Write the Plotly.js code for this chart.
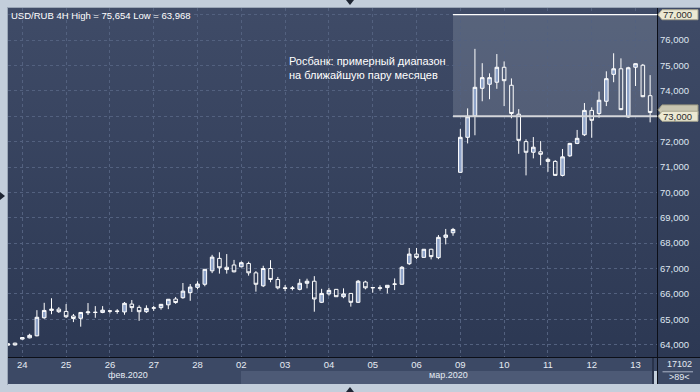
<!DOCTYPE html>
<html>
<head>
<meta charset="utf-8">
<script src="https://cdn.plot.ly/plotly-3.0.1.min.js"></script>
<style>
  html,body{margin:0;padding:0;}
  body{width:700px;height:392px;overflow:hidden;position:relative;background:#c3cedb;font-family:"Liberation Sans",Arial,sans-serif;}
  .abs{position:absolute;}
</style>
</head>
<body>
<div class="abs" style="left:7px;top:7px;width:693px;height:1px;background:#9aa6b6"></div>
<div class="abs" style="left:7px;top:7px;width:1px;height:378px;background:#9aa6b6"></div>
<div class="abs" style="left:8px;top:8px;width:692px;height:349px;background:linear-gradient(#3f4b67,#2c3853)"></div>
<div class="abs" style="left:8px;top:357px;width:692px;height:14px;background:#3c4965"></div>
<div class="abs" style="left:8px;top:371px;width:233px;height:13px;background:#3c4965"></div>
<div class="abs" style="left:241px;top:371px;width:411px;height:13px;background:#4d5a76"></div>
<div class="abs" style="left:652px;top:357px;width:2px;height:27px;background:#28324a"></div>
<div class="abs" style="left:657px;top:357px;width:43px;height:27px;background:#3c4965"></div>
<div class="abs" style="left:8px;top:357px;width:692px;height:1px;background:#0c0f18"></div>
<div class="abs" style="left:657px;top:8px;width:1px;height:376px;background:#0c0f18"></div>
<div class="abs" style="left:346px;top:0px;width:0;height:0;border-left:4px solid transparent;border-right:4px solid transparent;border-top:5px solid #1e2533"></div>
<div class="abs" style="left:346px;top:387px;width:0;height:0;border-left:4px solid transparent;border-right:4px solid transparent;border-bottom:5px solid #1e2533"></div>
<div class="abs" style="left:0px;top:192px;width:0;height:0;border-top:4px solid transparent;border-bottom:4px solid transparent;border-left:5px solid #1e2533"></div>
<div id="chart" class="abs" style="left:0;top:0;width:700px;height:392px"></div>
<script>
// ---- data: USD/RUB 4H candles (index 0..88) ----
const openP  = [64.04,64.06,64.22,64.27,64.35,65.06,65.35,65.40,65.31,65.13,
                65.04,65.26,65.28,65.27,65.32,65.31,65.29,65.60,65.47,65.30,
                65.44,65.46,65.57,65.80,65.85,66.05,66.26,66.38,66.91,67.40,
                67.05,67.14,67.07,67.20,66.83,66.32,67.00,66.57,66.24,66.22,
                66.18,66.42,66.50,65.67,66.00,66.18,65.89,66.02,65.67,66.47,
                66.24,66.22,66.25,66.38,66.38,67.19,67.57,67.44,67.76,67.43,
                68.23,68.41,70.79,72.17,73.01,74.10,74.26,74.34,74.93,74.22,
                73.08,72.00,71.58,71.60,71.30,71.22,70.67,71.44,71.93,72.27,
                73.23,73.11,73.59,74.65,74.87,72.97,74.93,75.01,73.81];
const highP  = [64.07,64.08,64.30,64.43,65.36,65.65,65.83,65.48,65.60,65.21,
                65.29,65.64,65.52,65.52,65.36,65.40,65.68,65.76,65.55,65.55,
                65.53,65.60,65.80,65.88,66.43,66.39,66.50,66.98,67.54,67.64,
                67.57,67.34,67.28,67.27,66.90,67.11,67.33,66.67,66.35,66.31,
                66.59,66.60,66.70,66.20,66.24,66.19,66.22,66.03,66.55,66.52,
                66.27,66.34,66.35,66.61,67.10,67.81,67.81,67.77,67.78,68.32,
                68.56,68.60,72.50,73.31,75.654,75.09,74.69,75.45,75.16,74.49,
                73.28,72.09,72.18,72.02,71.37,71.27,71.71,71.95,72.46,73.52,
                73.35,73.97,74.77,75.48,75.28,74.95,75.08,75.06,74.62];
const lowP   = [63.97,63.968,64.20,64.25,64.33,65.02,65.20,65.25,65.05,64.89,
                64.71,65.17,65.06,65.24,65.23,65.22,65.18,65.29,64.94,65.25,
                65.33,65.38,65.40,65.61,65.81,65.73,66.18,66.30,66.82,66.80,
                66.80,66.85,67.05,66.72,66.09,66.27,66.46,66.18,66.11,66.14,
                66.14,66.22,65.30,65.64,65.93,65.88,65.83,65.50,65.64,66.18,
                66.05,66.13,66.02,66.15,66.37,67.14,67.37,67.43,67.36,67.37,
                67.95,68.29,70.78,71.93,72.25,73.59,73.67,74.08,73.40,72.92,
                71.52,70.67,71.34,71.07,70.81,70.66,70.63,71.40,71.90,72.22,
                72.15,72.94,73.40,74.34,73.24,72.94,74.19,73.75,72.76];
const closeP = [63.98,63.99,64.28,64.37,65.08,65.35,65.40,65.30,65.10,65.03,
                65.27,65.29,65.27,65.36,65.33,65.32,65.63,65.46,65.30,65.43,
                65.45,65.59,65.79,65.66,66.11,66.27,66.39,66.97,67.45,67.03,
                66.96,66.87,67.23,66.83,66.38,67.00,66.57,66.24,66.22,66.23,
                66.42,66.50,65.80,66.02,66.14,65.89,66.00,65.67,66.50,66.24,
                66.25,66.24,66.34,66.39,67.05,67.57,67.44,67.76,67.47,68.23,
                68.32,68.54,72.17,72.98,74.14,74.52,74.52,74.93,74.40,73.11,
                72.05,71.58,71.78,71.50,71.22,70.67,71.40,71.93,72.13,73.23,
                72.84,73.63,74.48,74.87,73.26,74.91,75.07,73.77,73.15];
// day separators: candle index of first bar of each day, and labels
const dayTickIdx = [2,8,14,20,26,32,38,44,50,56,62,68,74,80,86];
const dayLabels  = ['24','25','26','27','28','02','03','04','05','06','09','10','11','12','13'];
const monthLabels = ['фев.2020','мар.2020'];
const priceTicks = [64,65,66,67,68,69,70,71,72,73,74,75,76,77];
const rangeLow = 73, rangeHigh = 77, rangeStartIdx = 61;
const titleText = 'USD/RUB 4H High = 75,654 Low = 63,968';
const noteText = 'Росбанк: примерный диапазон<br>на ближайшую пару месяцев';
const barCount = '17102', visibleBars = '>89<';

const fmt = v => v.toFixed(3).replace('.', ',');
const xIdx = openP.map((_, i) => i);
const XR = [0.04, 88.94], YR = [63.515, 77.264];
// levels marked with tags get their label from the tag, not the axis
const priceTickText = priceTicks.map(v => (v === rangeLow || v === rangeHigh) ? '' : fmt(v));

const trace = {
  type: 'candlestick', x: xIdx, open: openP, high: highP, low: lowP, close: closeP,
  increasing: {line: {color: '#ffffff', width: 1}, fillcolor: '#8ea3c9'},
  decreasing: {line: {color: '#ffffff', width: 1}, fillcolor: 'rgba(0,0,0,0)'},
  whiskerwidth: 0, hoverinfo: 'skip', showlegend: false
};

function tag(yv, fill, line) {
  return {type: 'path', xref: 'paper', yref: 'y', xsizemode: 'pixel', ysizemode: 'pixel',
    xanchor: 1, yanchor: yv, path: 'M1,0 L5,5 L41,5 L41,-5 L5,-5 Z',
    fillcolor: fill, line: {color: line, width: 1}, layer: 'above'};
}

const layout = {
  width: 700, height: 392,
  margin: {l: 8, r: 43, t: 8, b: 35, pad: 0},
  paper_bgcolor: 'rgba(0,0,0,0)', plot_bgcolor: 'rgba(0,0,0,0)',
  font: {family: '"Liberation Sans", Arial, sans-serif', color: '#e6ebf3', size: 9.5},
  showlegend: false,
  xaxis: {
    range: XR, tickmode: 'array', tickvals: dayTickIdx, ticktext: dayLabels,
    showgrid: true, gridcolor: '#53617f', griddash: '3px,3px', gridwidth: 1,
    zeroline: false, showline: false, ticks: '', tickfont: {size: 9.5, color: '#e6ebf3'},
    rangeslider: {visible: false}, fixedrange: true
  },
  yaxis: {
    side: 'right', range: YR, tickmode: 'array', tickvals: priceTicks, ticktext: priceTickText,
    showgrid: true, gridcolor: '#53617f', griddash: '3px,3px', gridwidth: 1,
    zeroline: false, showline: false, ticks: '', ticklabelstandoff: 2,
    tickfont: {size: 9.5, color: '#dfe6f0'}, fixedrange: true
  },
  shapes: [
    {type: 'rect', xref: 'x', yref: 'y', x0: rangeStartIdx, x1: XR[1], y0: rangeLow, y1: rangeHigh,
     fillcolor: 'rgba(235,240,250,0.15)', line: {width: 0}, layer: 'below'},
    {type: 'line', xref: 'x', yref: 'y', x0: rangeStartIdx, x1: XR[1], y0: rangeHigh, y1: rangeHigh,
     line: {color: '#ffffff', width: 1.2}, layer: 'above'},
    {type: 'line', xref: 'x', yref: 'y', x0: rangeStartIdx, x1: XR[1], y0: rangeLow, y1: rangeLow,
     line: {color: '#d4d6da', width: 2}, layer: 'above'},
    tag(rangeHigh, '#ece9d3', '#a9a690'),
    tag(closeP[closeP.length - 1] + 0.1, '#c8c5b0', '#98957f'),
    tag(rangeLow, '#ece9d3', '#a9a690'),
    {type: 'line', xref: 'paper', yref: 'paper', x0: 1.0085, x1: 1.0555, y0: -0.0424, y1: -0.0424,
     line: {color: '#aab4c6', width: 1}}
  ],
  annotations: [
    {xref: 'paper', yref: 'paper', x: 0, y: 1, xanchor: 'left', yanchor: 'top', xshift: 1, yshift: 0,
     text: titleText, showarrow: false, font: {size: 9.5, color: '#ffffff'}},
    {xref: 'paper', yref: 'paper', x: 0.43, y: 0.8295, xanchor: 'left', yanchor: 'middle', align: 'left',
     text: noteText, showarrow: false, font: {size: 11, color: '#ffffff'}},
    {xref: 'paper', yref: 'y', x: 1, y: rangeHigh, xanchor: 'left', yanchor: 'middle', xshift: 4,
     text: fmt(rangeHigh), showarrow: false, font: {size: 9.5, color: '#2b2b2b'}},
    {xref: 'paper', yref: 'y', x: 1, y: rangeLow, xanchor: 'left', yanchor: 'middle', xshift: 4,
     text: fmt(rangeLow), showarrow: false, font: {size: 9.5, color: '#2b2b2b'}},
    {xref: 'paper', yref: 'paper', x: 0.185, y: 0, xanchor: 'center', yanchor: 'middle', yshift: -18,
     text: monthLabels[0], showarrow: false, font: {size: 9, color: '#e6ebf3'}},
    {xref: 'paper', yref: 'paper', x: 0.6795, y: 0, xanchor: 'center', yanchor: 'middle', yshift: -18,
     text: monthLabels[1], showarrow: false, font: {size: 9, color: '#e6ebf3'}},
    {xref: 'paper', yref: 'paper', x: 1.0339, y: 0, xanchor: 'center', yanchor: 'middle', yshift: -7,
     text: barCount, showarrow: false, font: {size: 9, color: '#e6ebf3'}},
    {xref: 'paper', yref: 'paper', x: 1.0339, y: 0, xanchor: 'center', yanchor: 'middle', yshift: -20,
     text: visibleBars, showarrow: false, font: {size: 9, color: '#e6ebf3'}}
  ]
};

Plotly.newPlot('chart', [trace], layout, {displayModeBar: false, staticPlot: true});
</script>
</body>
</html>
